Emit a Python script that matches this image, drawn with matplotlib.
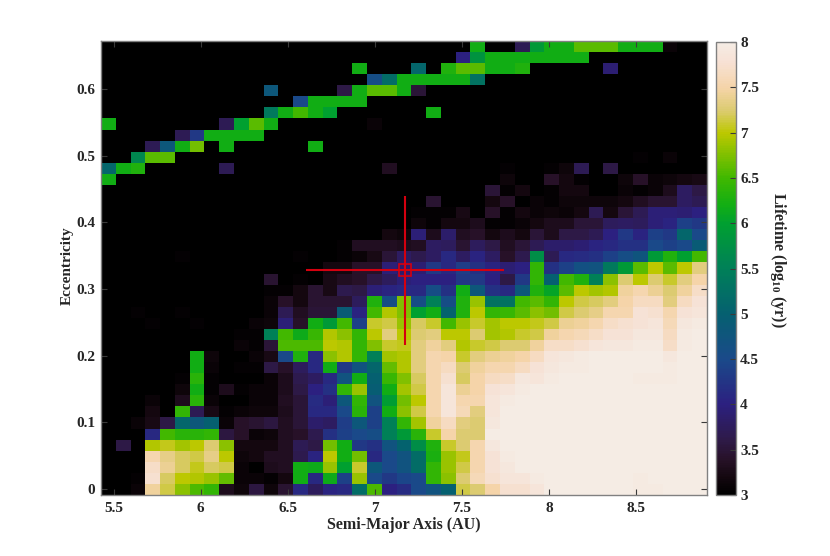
import matplotlib
matplotlib.use("Agg")
import matplotlib.pyplot as plt
from matplotlib.colors import LinearSegmentedColormap
import numpy as np

plt.rcParams['font.family'] = ['Liberation Serif', 'DejaVu Serif']
plt.rcParams['font.weight'] = 'bold'
plt.rcParams['mathtext.fontset'] = 'custom'
plt.rcParams['mathtext.rm'] = 'Liberation Serif:bold'
plt.rcParams['mathtext.bf'] = 'Liberation Serif:bold'

# log10 lifetime per cell, top row (highest eccentricity) first
r00 = [3]*25+[6.2,3,3,3.7,5.9,6.2,6.2,6.6,6.6,6.6,6.2,6.2,6.2,3.1,3,3]
r01 = [3]*24+[4.0,5.8]+[6.2]*7+[3]*8
r02 = [3]*17+[6.2,3,3,3,5.1,3,6.3,6.6,6.6,6.2,6.2,6.3]+[3]*5+[3.9]+[3]*6
r03 = [3]*18+[4.6,5.2,6.2,6.2,6.2,6.2,6.2,5.3]+[3]*15
r04 = [3]*11+[4.8]+[3]*4+[3.6,6.2,6.6,6.6,6.2,3.5]+[3]*19
r05 = [3]*13+[4.5,6.2,6.2,6.2,6.2]+[3]*23
r06 = [3]*11+[5.4,6.2,6.5,6.2,6.0]+[3]*6+[6.2]+[3]*18
r07 = [6.2]+[3]*7+[3.7,6.0,6.6,6.2]+[3]*6+[3.1]+[3]*22
r08 = [3]*5+[3.7,4.3,6.2,6.2,6.2,6.2]+[3]*30
r09 = [3]*3+[3.7,4.8,6.2,6.7,3,6.2]+[3]*5+[6.2]+[3]*26
r10 = [3,3,5.6,6.6,6.6]+[3]*31+[3.05,3,3.1,3,3]
r11 = [5.1,6.2,6.3]+[3]*5+[3.7]+[3]*10+[3.35]+[3]*7+[3.05,3,3,3.05,3.15,3.7,3,3.6]+[3]*6
r12 = [6.2]+[3]*26+[3.15,3,3,3.4,3.2,3.05,3,3,3.15,3.4,3.1,3.15,3.2,3.25]
r13 = [3]*26+[3.5,3.05,3.2,3,3.05,3.2,3.2,3,3,3.1,3.05,3.1,3.3,3.8,3.6]
r14 = [3]*22+[3.45,3,3,3,3.2,3.4,3,3.1,3.05,3.15,3.15,3.15,3.15,3.2,3.35,3.45,3.45,3.8,3.7]
r15 = [3]*21+[3.05,3.05,3.05,3.25,3,3.4,3.05,3.2,3.1,3.15,3.1,3.2,3.7,3.2,3.5,3.7,3.95,3.95,3.9,4.0]
r16 = [3]*21+[3.15,3.05,3.2,3.2,3.3,3.05,3.05,3.1,3.2,3.3,3.3,3.5,3.5,3.75,3.8,3.75,3.95,4.05,4.4,4.3]
r17 = [3]*19+[3.2,3.15,3.95,3.3,3.85,3.35,3.4,3.2,3.3,3.2,3.5,3.3,3.6,3.6,3.7,4.0,4.3,4.05,4.4,4.3,5.1,4.5]
r18 = [3]*16+[3.05,3.35,3.35,3.35,3.3]+[3.35,3.8,3.75,3.45,3.75,3.6,3.35,3.5,3.7,3.85,3.85,3.9,4.05,4.1,4.2,4.2,4.5,4.4,4.5,4.9]
r19 = [3]*5+[3.05]+[3]*7+[3.05,3,3,3.05,3.1,3.25,3.5,3.8]+[3.65,3.8,4.1,3.8,4.05,3.8,3.4,3.65,5.7,3.7,4.1,4.15,4.2,4.4,4.6,4.75,5.9,6.3,6.0,6.5]
r20 = [3]*15+[3.2,3.2,3.4,3.4,3.95,3.85]+[3.9,4.3,4.1,4.35,4.2,4.05,3.9,4.0,6.4,4.2,4.4,4.65,4.7,5.4,5.9,6.6,7.0,6.6,7.0,7.3]
r21 = [3]*11+[3.45,3,3.05,3,3.25,3.35,3.4,3.6,3.75,3.95]+[4.0,4.0,4.0,4.3,4.3,4.0,3.6,4.3,6.4,5.0,6.5,6.3,5.5,6.8,7.25,7.0,7.25,7.1,7.3,7.5]
r22 = [3]*11+[3.05,3.05,3.2,3.45,3.25,3.65,3.6,3.95,4.05,4.1]+[4.1,4.6,4.2,6.2,4.8,4.2,4.1,4.8,6.3,6.05,6.6,7.0,6.9,6.95,7.45,7.55,7.4,7.25,7.45,7.7]
r23 = [3]*11+[3.1,3.4,3.2,3.45,3.45,3.45,3.75,6.3,4.6,6.75]+[4.6,5.5,4.6,6.3,6.85,5.3,5.3,6.5,6.6,6.4,7.0,7.15,7.2,7.3,7.5,7.65,7.65,7.3,7.65,7.8]
r24 = [3,3,3.05,3,3,3.05,3,3,3,3,3]+[3.1,3.7,3.35,3.5,3.5,4.9,4.05,6.5,6.95,6.75]+[6.0,6.2,5.05,6.3,7.0,6.4,6.45,6.6,6.8,6.7,7.15,7.25,7.35,7.55,7.55,7.8,7.75,7.55,7.8,7.85]
r25 = [3,3,3,3.05,3,3,3.05,3,3,3,3.1]+[3.15,3.95,3.4,6.2,5.9,6.5,4.4,7.1,7.15,6.85]+[7.2,7.1,6.5,6.85,7.1,6.9,7.0,7.0,7.05,7.15,7.4,7.45,7.55,7.7,7.75,7.8,7.85,7.6,7.9,7.95]
r26 = [3]*9+[3.05,3.05]+[5.5,6.5,6.15,6.45,6.95,6.8,6.4,7.0,7.3,7.0]+[7.25,7.3,7.0,7.0,7.25,6.9,6.95,7.1,7.15,7.45,7.55,7.6,7.7,7.8,7.8,7.9,7.9,7.65,7.95,8]
r27 = [3]*9+[3.1,3.05]+[3.5,6.55,6.55,6.55,7.0,6.95,6.4,6.75,7.1,7.05]+[7.3,7.45,7.3,6.95,7.1,7.15,7.25,7.25,7.45,7.7,7.7,7.75,7.85,7.9,7.9,7.95,7.95,7.7,7.95,8]
r28 = [3]*6+[6.2,3.15,3,3,3.1]+[3.25,4.5,6.3,4.1,6.8,6.95,6.4,5.5,6.9,6.95]+[7.3,7.55,7.5,7.1,7.3,7.4,7.45,7.5,7.65,7.85,7.9,7.95,8,8,8,8,8,7.9,8,8]
r29 = [3]*6+[6.2,3.1,3,3.05,3.05]+[3.6,3.4,3.75,4.1,6.2,4.3,4.7,5.1,6.65,6.95]+[7.3,7.55,7.65,7.25,7.45,7.55,7.55,7.65,7.8,7.9,7.95,7.95,8,8,8,8,8,7.95,8,8]
r30 = [3]*5+[3.05,6.35,3.05,3,3,3]+[3.1,3.3,3.65,3.8,4.1,4.7,6.2,5.0,6.45,6.75]+[7.2,7.55,7.75,7.2,7.5,7.65,7.7,7.9,7.85,7.95,8,8,8,8,8,7.95,7.95,7.95,8,8]
r31 = [3]*5+[3.15,6.2,3.05,3.3,3.05,3.1]+[3.1,3.3,3.6,4.0,4.2,6.4,6.85,4.95,6.2,6.9]+[7.15,7.55,7.85,7.4,7.5,7.8,7.85,7.95]+[8]*12
r32 = [3,3,3,3.1,3,3.3,6.35,3.1,3,3,3.1]+[3.1,3.35,3.5,4.15,3.95,4.8,6.4,4.7,5.95,6.7]+[7.0,7.55,7.85,7.55,7.55,7.85,7.95]+[8]*13
r33 = [3,3,3,3.2,3,6.4,3.7,3.25,3.05,3.1,3.15]+[3.15,3.3,3.5,4.1,4.1,4.5,6.35,4.4,6.2,6.8]+[7.15,7.55,7.85,7.6,7.3,7.85]+[8]*14
r34 = [3,3,3.1,3.25,3.6,5.1,4.8,5.0,3.1,3.4,3.45]+[3.55,3.35,3.5,3.85,3.8,4.35,4.8,4.4,5.5,6.4]+[6.9,7.45,7.65,7.3,7.25,7.9]+[8]*14
r35 = [3,3,3,4.1,6.5,6.35,6.35,6.4,3.55,3.4,3.1]+[3.15,3.35,3.4,3.65,4.2,4.4,4.5,4.6,5.5,5.9]+[6.35,7.1,7.5,7.25,7.25,8]+[8]*14
r36 = [3,3.6,3,6.95,7.05,6.9,7.0,7.25,6.8,3.2,3.2]+[3.2,3.35,3.7,3.6,6.7,6.2,4.3,4.2,4.7,5.05]+[5.7,6.3,7.1,7.25,7.55,7.9]+[8]*14
r37 = [3,3,3,7.55,7.35,7.2,7.15,7.35,7.0,3.15,3.2]+[3.35,3.35,3.65,4.05,7.0,6.2,6.7,4.1,4.5,4.7]+[5.2,6.25,6.85,7.05,7.55,7.8,7.95]+[8]*13
r38 = [3,3,3,7.7,7.4,7.2,7.05,7.2,7.15,3.1,3]+[3.3,3.35,6.2,6.15,6.85,6.0,7.1,4.8,4.5,4.7]+[5.2,6.4,6.85,7.15,7.55,7.8,7.9]+[8]*13
r39 = [3,3,3.05,7.75,7.2,7.0,6.95,6.85,6.65,3.1,3.1]+[3.05,3.2,6.2,4.1,6.15,4.4,6.85,4.5,4.3,4.45]+[4.5,6.4,6.8,7.25,7.6,7.75,7.85,7.85,7.95]+[8]*6+[7.95]+[8]*4
r40 = [3,3,3.1,7.45,7.15,6.8,6.55,6.4,3.3,3.15,3.55]+[3.15,3.45,4.1,3.75,4.05,4.1,5.2,6.55,4.0,4.15]+[4.5,4.7,5.0,7.15,7.25,7.5,7.75,7.75,7.85]+[8]*6+[7.95,7.95]+[8]*3

lifetime = [r00,r01,r02,r03,r04,r05,r06,r07,r08,r09,r10,r11,r12,r13,r14,r15,r16,r17,r18,r19,
            r20,r21,r22,r23,r24,r25,r26,r27,r28,r29,r30,r31,r32,r33,r34,r35,r36,r37,r38,r39,r40]

x_ticks = [5.5, 6, 6.5, 7, 7.5, 8, 8.5]
x_tick_labels = ['5.5', '6', '6.5', '7', '7.5', '8', '8.5']
y_ticks = [0, 0.1, 0.2, 0.3, 0.4, 0.5, 0.6]
y_tick_labels = ['0', '0.1', '0.2', '0.3', '0.4', '0.5', '0.6']
cbar_ticks = [3, 3.5, 4, 4.5, 5, 5.5, 6, 6.5, 7, 7.5, 8]
cbar_tick_labels = ['3', '3.5', '4', '4.5', '5', '5.5', '6', '6.5', '7', '7.5', '8']

# best-fit point and its error bars
best_a, best_e = 7.172, 0.329
a_low, a_high = 6.603, 7.741
e_low, e_high = 0.2155, 0.44

cmap_stops = [(3.0, '#000000'), (3.2, '#150810'), (3.4, '#28122a'), (3.6, '#2e1a48'), (4.0, '#2c2080'),
              (4.5, '#1a4a8a'), (5.0, '#056070'), (5.5, '#008058'), (6.0, '#00a030'), (6.2, '#12ae14'),
              (6.5, '#40b800'), (7.0, '#bcc800'), (7.25, '#dccb70'), (7.5, '#f5d4a8'),
              (7.8, '#f7e2d6'), (8.0, '#f5ece4')]
cmap = LinearSegmentedColormap.from_list(
    'lifetime', [((v - 3.0) / 5.0, c) for v, c in cmap_stops], N=256)

W, H = 830, 556
fig = plt.figure(figsize=(W / 100, H / 100), dpi=100)
ax = fig.add_axes([101 / W, (H - 495) / H, 605.7 / W, 454 / H])
xlim = (5.428, 8.905)
ylim = (-0.009, 0.672)
im = ax.imshow(np.array(lifetime, dtype=float), cmap=cmap, vmin=3, vmax=8, aspect='auto',
               extent=(xlim[0], xlim[1], ylim[0], ylim[1]), interpolation='nearest', origin='upper')
ax.set_xlim(xlim)
ax.set_ylim(ylim)
ax.set_xticks(x_ticks, x_tick_labels)
ax.set_yticks(y_ticks, y_tick_labels)
text_c = '#262626'
frame_c = '#808080'
tick_c = '#3a3a3a'
ax.tick_params(direction='in', length=4, width=0.8, color=tick_c, labelsize=11,
               labelcolor=text_c, top=True, right=True, pad=5)
ax.tick_params(axis='y', pad=4)
for s in ax.spines.values():
    s.set_color(frame_c)
    s.set_linewidth(1.0)

red = '#d4000f'
ax.plot([a_low, a_high], [best_e, best_e], color=red, lw=1.5, solid_capstyle='butt')
ax.plot([best_a, best_a], [e_low, e_high], color=red, lw=1.5, solid_capstyle='butt')
ax.plot([best_a], [best_e], marker='s', ms=8.5, mfc='none', mec=red, mew=1.2, ls='none')

fig.text(404 / W, (H - 525) / H, 'Semi-Major Axis (AU)', ha='center', va='center',
         fontsize=11.5, color=text_c, fontweight='bold')
fig.text(67 / W, (H - 266) / H, 'Eccentricity', ha='center', va='center', rotation=90,
         fontsize=11, color=text_c, fontweight='bold')

cax = fig.add_axes([716 / W, (H - 495) / H, 20 / W, 453 / H])
cb = fig.colorbar(im, cax=cax)
cb.set_ticks(cbar_ticks, labels=cbar_tick_labels)
cb.ax.tick_params(direction='in', length=4, width=0.8, color=tick_c, labelsize=11,
                  labelcolor=text_c, pad=3)
cb.outline.set_edgecolor(frame_c)
cb.outline.set_linewidth(1.0)
fig.text(778 / W, (H - 260) / H, r'Lifetime (log$_{\mathbf{10}}$ (yr))', ha='center', va='center',
         rotation=270, fontsize=11.5, color=text_c, fontweight='bold')

fig.savefig('out.png', dpi=100)
